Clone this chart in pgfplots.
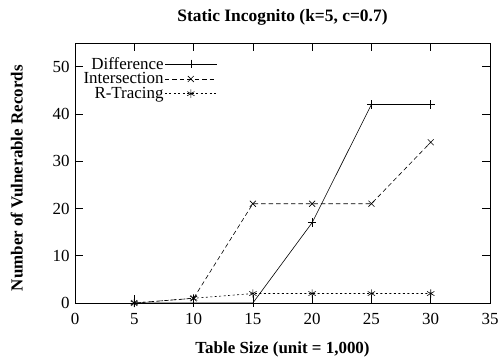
\documentclass[border=0pt]{standalone}
\usepackage{fontspec}
\setmainfont{Liberation Serif}
\usepackage{pgfplots}
\pgfplotsset{compat=1.18}
\begin{document}
\begin{tikzpicture}
\useasboundingbox (-75bp,-57bp) rectangle (426bp,303bp);
\begin{axis}[
  at={(0,0)}, anchor=south west,
  scale only axis,
  width=415bp, height=260bp,
  xmin=0, xmax=35, ymin=0, ymax=55,
  xtick={0,5,...,35}, ytick={0,10,...,50},
  tick align=inside,
  major tick length=8bp,
  tick style={black, line width=0.6pt},
  axis line style={line width=0.9pt},
  /pgf/number format/assume math mode=true,
  tick label style={font=\fontsize{17}{18}\selectfont},
  xticklabel style={anchor=base, yshift=-21bp},
  yticklabel style={xshift=-2bp},
  title={\bfseries Static Incognito (k=5, c=0.7)},
  title style={font=\fontsize{17.5}{18}\selectfont, at={(axis description cs:0.5,1.058)}, anchor=base},
  xlabel={\bfseries Table Size (unit = 1,000)},
  ylabel={\bfseries Number of Vulnerable Records},
  label style={font=\fontsize{17}{18}\selectfont},
  xlabel style={at={(axis description cs:0.5,-0.196)}, anchor=base},
  ylabel style={at={(axis description cs:-0.126,0.48)}, anchor=base},
  legend plot pos=right,
  legend cell align=right,
  legend style={draw=none, fill=none, font=\fontsize{17}{14}\selectfont, at={(0.343,0.95)}, anchor=north east, row sep=0bp, inner sep=0pt, nodes={inner sep=1bp}},
  legend image code/.code={\draw[mark repeat=2,mark phase=2] plot coordinates {(0bp,0bp) (26bp,0bp) (52bp,0bp)};},
  every axis plot/.append style={black, line width=0.6pt, mark size=4.2bp, mark options={solid}},
]
\addplot[mark=+] coordinates {(5,0) (10,0) (15,0) (20,17) (25,42) (30,42)};
\addlegendentry{Difference}
\addplot[mark=x, dash pattern=on 4.5pt off 3pt] coordinates {(5,0) (10,1) (15,21) (20,21) (25,21) (30,34)};
\addlegendentry{Intersection}
\addplot[mark=asterisk, dash pattern=on 2pt off 2.5pt] coordinates {(5,0) (10,1) (15,2) (20,2) (25,2) (30,2)};
\addlegendentry{R-Tracing}
\end{axis}
\end{tikzpicture}
\end{document}
